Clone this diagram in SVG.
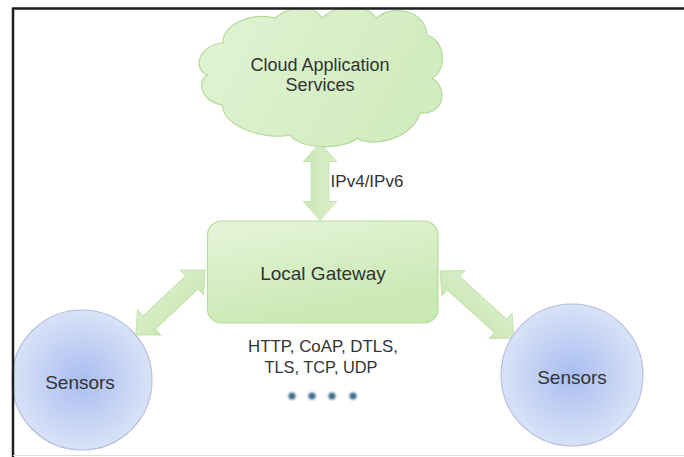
<svg xmlns="http://www.w3.org/2000/svg" width="684" height="457" viewBox="0 0 684 457">
  <defs>
    <linearGradient id="greenFill" x1="0" y1="0" x2="0.4" y2="1">
      <stop offset="0" stop-color="#e6f5da"/>
      <stop offset="1" stop-color="#c9e8b2"/>
    </linearGradient>
    <linearGradient id="cloudFill" x1="0" y1="0" x2="1" y2="0.3">
      <stop offset="0" stop-color="#e1f3d4"/>
      <stop offset="1" stop-color="#d1ecbe"/>
    </linearGradient>
    <linearGradient id="arrowFill" x1="0" y1="0" x2="0" y2="1">
      <stop offset="0" stop-color="#d9efc9"/>
      <stop offset="1" stop-color="#cbe7b6"/>
    </linearGradient>
    <radialGradient id="blueFill" cx="0.5" cy="0.5" r="0.55">
      <stop offset="0" stop-color="#a9bdf0"/>
      <stop offset="1" stop-color="#dde5f8"/>
    </radialGradient>
    <filter id="soft" x="-50%" y="-50%" width="200%" height="200%">
      <feGaussianBlur stdDeviation="0.8"/>
    </filter>
  </defs>
  <style>
    .label { font-family: "Liberation Sans", Arial, sans-serif; fill: #333333; text-anchor: middle; }
    .green { fill: url(#greenFill); stroke: #b6dc9c; stroke-width: 1.2; }
    .cloud { fill: url(#cloudFill); stroke: #b4da9a; stroke-width: 1.2; }
    .arrow { fill: url(#arrowFill); stroke: #c3e2ad; stroke-width: 1; }
    .sensor { fill: url(#blueFill); stroke: #b3bedc; stroke-width: 1.1; }
    .dot { fill: #3e6d8c; filter: url(#soft); }
  </style>

  <rect width="684" height="457" fill="#ffffff"/>

  <!-- connectors: double-headed block arrows drawn along +x, then placed -->
  <g id="connectors">
    <!-- cloud <-> gateway -->
    <path class="arrow" transform="translate(320,143) rotate(90)"
          d="M0,0 L18.5,-16.7 L18.5,-8.8 L58.5,-8.8 L58.5,-16.7 L77,0 L58.5,16.7 L58.5,8.8 L18.5,8.8 L18.5,16.7 Z"/>
    <!-- gateway <-> left sensors -->
    <path class="arrow" transform="translate(136,335) rotate(-43.3)"
          d="M0,0 L18,-17 L18,-9 L76.8,-9 L76.8,-17 L94.8,0 L76.8,17 L76.8,9 L18,9 L18,17 Z"/>
    <!-- gateway <-> right sensors -->
    <path class="arrow" transform="translate(440,271) rotate(42.2)"
          d="M0,0 L18,-17 L18,-9 L81.8,-9 L81.8,-17 L99.8,0 L81.8,17 L81.8,9 L18,9 L18,17 Z"/>
    <text class="label" x="367" y="187" font-size="17">IPv4/IPv6</text>
    <text class="label" x="323" y="352" font-size="17" textLength="150" lengthAdjust="spacingAndGlyphs">HTTP, CoAP, DTLS,</text>
    <text class="label" x="321" y="373" font-size="17" textLength="113" lengthAdjust="spacingAndGlyphs">TLS, TCP, UDP</text>
    <circle class="dot" cx="292" cy="396" r="3.6"/>
    <circle class="dot" cx="312" cy="396" r="3.6"/>
    <circle class="dot" cx="332" cy="396" r="3.6"/>
    <circle class="dot" cx="353" cy="396" r="3.6"/>
  </g>

  <g id="cloud">
    <path class="cloud"
          d="M223,43 C222,25 250,12 275,18 C290,5 315,5 322,18 C335,5 365,3 377,18 C390,5 425,8 427,35 C445,40 448,70 432,78 C448,88 445,115 420,113 C412,140 370,148 357,138 C345,150 300,150 290,135 C270,140 225,130 222,105 C198,100 198,78 208,75 C192,70 198,45 223,43 Z"/>
    <text class="label" x="320" y="71" font-size="18">Cloud Application</text>
    <text class="label" x="320" y="91" font-size="18">Services</text>
  </g>

  <g id="gateway">
    <rect class="green" x="207.5" y="221" width="230.5" height="102" rx="14"/>
    <text class="label" x="323" y="280" font-size="19">Local Gateway</text>
  </g>

  <g id="sensors-left">
    <ellipse class="sensor" cx="82" cy="380" rx="70" ry="70"/>
    <text class="label" x="80" y="389" font-size="19">Sensors</text>
  </g>

  <g id="sensors-right">
    <ellipse class="sensor" cx="572" cy="375" rx="71" ry="71"/>
    <text class="label" x="572" y="384" font-size="19">Sensors</text>
  </g>

  <!-- page frame -->
  <g id="frame" fill="none">
    <line x1="12" y1="8.5" x2="684" y2="8.5" stroke="#1e1e1e" stroke-width="2.5"/>
    <line x1="13" y1="8" x2="13" y2="457" stroke="#1e1e1e" stroke-width="2.5"/>
    <line x1="13" y1="455.5" x2="684" y2="455.5" stroke="#dcdcdc" stroke-width="1"/>
  </g>
</svg>
